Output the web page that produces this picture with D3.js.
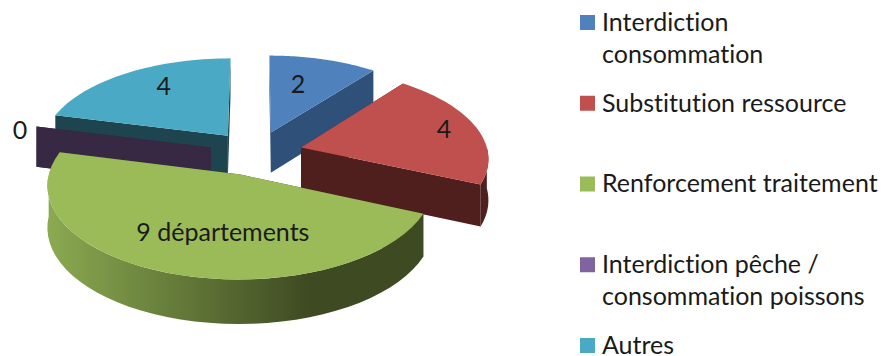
<!DOCTYPE html>
<html>
<head>
<meta charset="utf-8">
<script src="https://cdn.jsdelivr.net/npm/d3@7"></script>
<style>
  html, body { margin: 0; padding: 0; background: #fff; }
  svg { display: block; }
  text { font-family: Lato, "Open Sans", sans-serif; fill: #1a1a1a; font-variant-ligatures: none; }
</style>
</head>
<body>
<div id="chart"></div>
<script>
var categories = ["Interdiction consommation", "Substitution ressource", "Renforcement traitement", "Interdiction pêche / consommation poissons", "Autres"]
var values = [2, 4, 9, 0, 4]
var valueLabels = ["2", "4", "9 départements", "0", "4"]
var legendLines = [["Interdiction", "consommation"], ["Substitution ressource"], ["Renforcement traitement"], ["Interdiction pêche /", "consommation poissons"], ["Autres"]]
var topColors = ["#4f81bd", "#c0504d", "#9bbb59", "#8064a2", "#4aa9c4"]
var wallColors = ["#2f5179", "#4f1f1e", "#3e4a22", "#372944", "#1d444f"]

var width = 883, height = 356

// pie plane projected with a bit of perspective
var cx = 256, cy = 153, rx = 187, ry = 89, persp = 0.105, explode = 0.25, thick = 41
// where each label sits inside its slice (degrees from top, fraction of radius)
var labelAngle = [15, 75, 188, 281, 328]
var labelRadius = [0.63, 0.82, 0.58, 1.075, 0.72]

function project(a, r, mid) {
  var X = r * Math.sin(a) + explode * Math.sin(mid)
  var Z = -r * Math.cos(a) - explode * Math.cos(mid)
  var w = 1 / (1 - persp * Z)
  return {x: cx + rx * X * w, y: cy + ry * Z * w, drop: thick * (1 + 0.07 * Z)}
}

var svg = d3.select("#chart").append("svg")
  .attr("width", width)
  .attr("height", height)

// green wall is shaded from left to right
var grad = svg.append("defs").append("linearGradient")
  .attr("id", "greenWall")
  .attr("gradientUnits", "userSpaceOnUse")
  .attr("x1", 50).attr("x2", 310).attr("y1", 0).attr("y2", 0)
grad.append("stop").attr("offset", 0).attr("stop-color", "#8aa950")
grad.append("stop").attr("offset", 1).attr("stop-color", "#3e4a22")

var pie = d3.pie().sort(null).value(function(d) { return d })
var slices = pie(values).map(function(d, i) {
  d.index = i
  d.mid = (d.startAngle + d.endAngle) / 2
  return d
})

var line = d3.line().x(function(d) { return d[0] }).y(function(d) { return d[1] })

function arcPoints(d, a0, a1) {
  return d3.range(0, 41).map(function(k) {
    return project(a0 + (a1 - a0) * k / 40, 1, d.mid)
  })
}

function radialFace(d, a) {
  var c = project(0, 0, d.mid), o = project(a, 1, d.mid)
  return {y: (c.y + o.y) / 2, path: line([[c.x, c.y], [o.x, o.y], [o.x, o.y + o.drop], [c.x, c.y + c.drop]]) + "Z"}
}

// back slices first, green last
var drawOrder = [4, 3, 0, 1, 2]
drawOrder.forEach(function(i) {
  var d = slices[i]
  var g = svg.append("g").attr("class", "slice")
  var wall = wallColors[i]

  var faces = [radialFace(d, d.startAngle), radialFace(d, d.endAngle)]
    .sort(function(a, b) { return d3.ascending(a.y, b.y) })
  faces.forEach(function(f) {
    g.append("path").attr("d", f.path).attr("fill", wall)
  })

  // outer wall, only the part turned to the viewer
  var a0 = Math.max(d.startAngle, Math.PI / 2), a1 = Math.min(d.endAngle, Math.PI * 1.5)
  if (a1 > a0) {
    var upper = arcPoints(d, a0, a1)
    var pts = upper.map(function(p) { return [p.x, p.y] })
      .concat(upper.slice().reverse().map(function(p) { return [p.x, p.y + p.drop] }))
    g.append("path")
      .attr("d", line(pts) + "Z")
      .attr("fill", i == 2 ? "url(#greenWall)" : wall)
  }

  if (d.endAngle > d.startAngle) {
    var c = project(0, 0, d.mid)
    var rim = arcPoints(d, d.startAngle, d.endAngle).map(function(p) { return [p.x, p.y] })
    g.append("path")
      .attr("d", line([[c.x, c.y]].concat(rim)) + "Z")
      .attr("fill", topColors[i])
  }
})

// value labels
slices.forEach(function(d, i) {
  var p = project(labelAngle[i] * Math.PI / 180, labelRadius[i], d.mid)
  svg.append("text")
    .attr("x", p.x)
    .attr("y", p.y)
    .attr("dy", "0.35em")
    .attr("text-anchor", "middle")
    .style("font-size", "25px")
    .text(valueLabels[i])
})

// legend
var legendY = d3.scalePoint().domain(categories).range([22, 345])
var legend = svg.selectAll("g.legend")
  .data(categories)
  .enter()
  .append("g")
    .attr("class", "legend")
    .attr("transform", function(d) { return "translate(580," + legendY(d) + ")" })
legend.append("rect")
  .attr("x", 0)
  .attr("y", -7)
  .attr("width", 15)
  .attr("height", 15)
  .attr("fill", function(d, i) { return topColors[i] })
legend.each(function(d, i) {
  var row = d3.select(this)
  legendLines[i].forEach(function(t, k) {
    row.append("text")
      .attr("x", 22)
      .attr("y", k * 32)
      .attr("dy", "0.35em")
      .style("font-size", "25px")
      .text(t)
  })
})
</script>
</body>
</html>
